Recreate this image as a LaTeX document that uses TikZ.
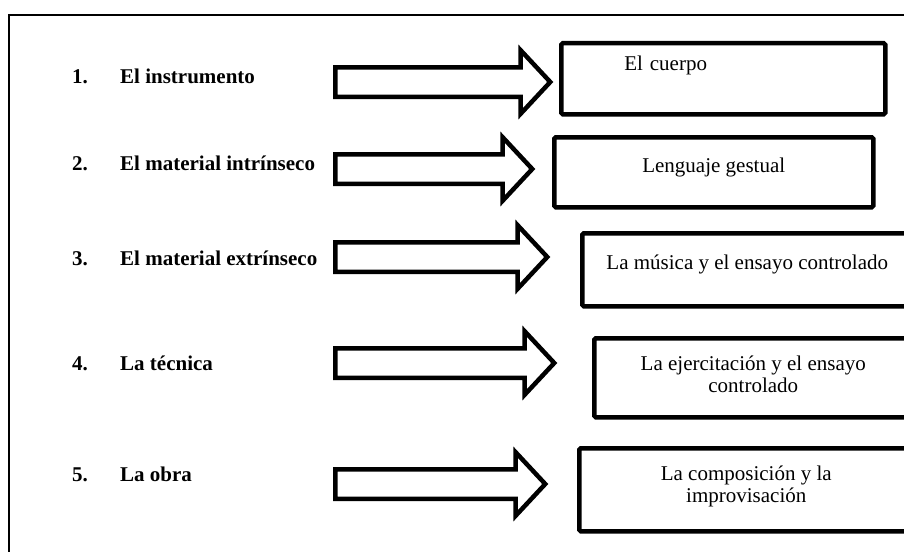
\documentclass[tikz,border=0pt]{standalone}
\usepackage{fontspec}
\setmainfont{Liberation Serif}
\usetikzlibrary{shapes.arrows}

\begin{document}
\begin{tikzpicture}[
    x=1pt, y=-1pt,
    item/.style={anchor=base west, inner sep=0pt, font=\fontsize{21}{22}\selectfont\bfseries},
    answer/.style={rectangle, draw, line width=4.5pt, rounded corners=1.5pt, anchor=north west, align=center, text height=12pt, text depth=12pt, font=\fontsize{21}{22}\selectfont},
    block/.style={single arrow, draw, line width=4.5pt, single arrow head extend=17pt, single arrow tip angle=94, minimum width=60pt, inner xsep=0pt, inner ysep=12.5pt, anchor=tail}
]
    \useasboundingbox (0,0) rectangle (904,551);
    \clip (0,0) rectangle (904,551);

    % Frame
    \draw[line width=2pt] (9,15) rectangle (930,580);

    % Items
    \node[item] (item1) at (72,83) {\makebox[48pt][l]{1.}El instrumento};
    \node[item] (item2) at (72,170) {\makebox[48pt][l]{2.}El material intrínseco};
    \node[item] (item3) at (72,265) {\makebox[48pt][l]{3.}El material extrínseco};
    \node[item] (item4) at (72,370) {\makebox[48pt][l]{4.}La técnica};
    \node[item] (item5) at (72,481) {\makebox[48pt][l]{5.}La obra};

    % Arrows
    \node[block, minimum height=215pt] (arr1) at (333,82) {};
    \node[block, minimum height=197pt] (arr2) at (333,169) {};
    \node[block, minimum height=212pt] (arr3) at (333,257) {};
    \node[block, minimum height=219pt] (arr4) at (333,363) {};
    \node[block, minimum height=210pt] (arr5) at (333,484) {};

    % Boxes
    \node[answer, minimum width=324pt, minimum height=71pt, text width=198pt, inner xsep=63pt, align=left, text height=14pt, text depth=30pt] (box1) at (559,41) {El cuerpo};
    \node[answer, minimum width=319pt, minimum height=70pt] (box2) at (552,135) {Lenguaje gestual};
    \node[answer, minimum width=330pt, minimum height=73pt] (box3) at (580,231) {La música y el ensayo controlado};
    \node[answer, minimum width=318pt, minimum height=79pt, text height=37pt, text depth=8pt] (box4) at (592,336) {La ejercitación y el ensayo\\controlado};
    \node[answer, minimum width=334pt, minimum height=83pt, text height=33pt, text depth=8pt] (box5) at (577,446) {La composición y la\\improvisación};
\end{tikzpicture}
\end{document}
